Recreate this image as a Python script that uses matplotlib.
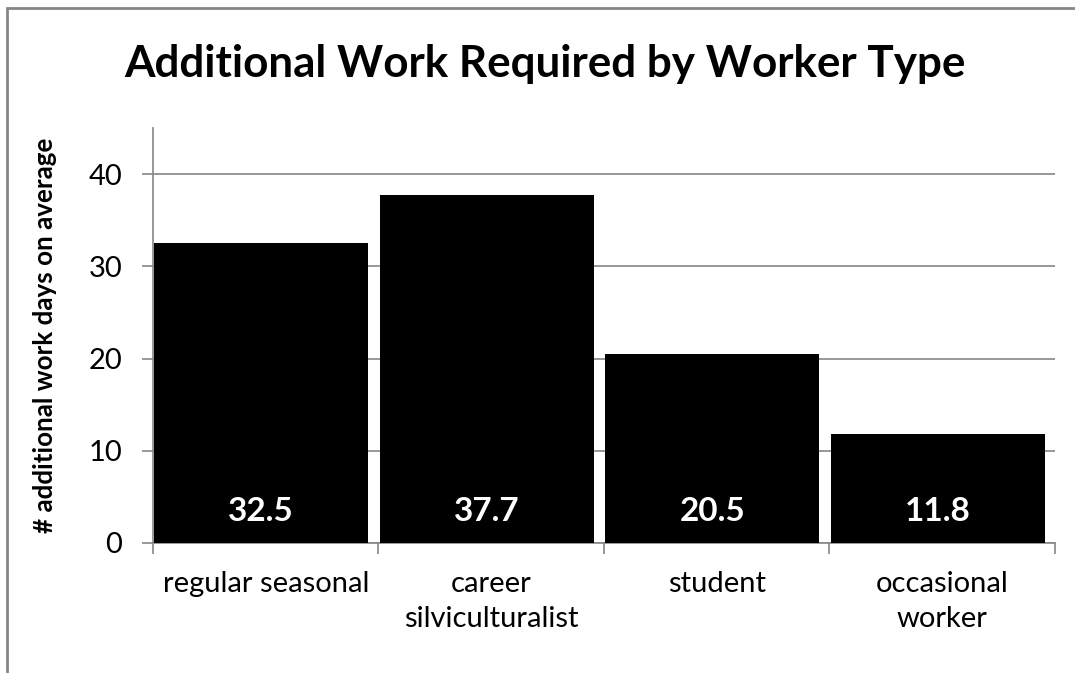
import matplotlib.pyplot as plt
from matplotlib.patches import Rectangle

categories = ["regular seasonal", "career\nsilviculturalist", "student", "occasional\nworker"]
values = [32.5, 37.7, 20.5, 11.8]
yticks = [0, 10, 20, 30, 40]

plt.rcParams['font.family'] = ['Lato', 'DejaVu Sans']
grey = "#868686"

fig = plt.figure(figsize=(10.75, 6.73), dpi=100)
ax = fig.add_axes([0.1423, 0.1932, 0.8391, 0.6166])

# outer chart frame (only top and left edges fall inside the image)
fig.patches.append(Rectangle((7 / 1075, -0.1), 1.2, 1 - 8 / 673 + 0.1,
                             transform=fig.transFigure, fill=False,
                             edgecolor=grey, linewidth=2))

xs = range(len(values))
ax.bar([x - 0.02 for x in xs], values, width=0.95, color="black", zorder=3)
for x, v in zip(xs, values):
    ax.annotate(f"{v:.1f}", (x - 0.02, 0), xytext=(0, 23), textcoords="offset points",
                ha="center", va="center", color="white", fontsize=24,
                fontweight="bold", zorder=4)

ax.set_xlim(-0.5, len(values) - 0.5)
ax.set_ylim(0, 45)
ax.set_yticks(yticks)
ax.yaxis.grid(True, color=grey, linewidth=1.2, zorder=0)
ax.set_xticks(list(xs))
ax.set_xticklabels(categories, fontsize=21, linespacing=1.45)
ax.set_xticks([i - 0.5 for i in range(len(values) + 1)], minor=True)
ax.tick_params(axis="x", which="major", length=0, pad=20)
ax.tick_params(axis="x", which="minor", length=8, color=grey, width=1.2)
ax.tick_params(axis="y", length=8, color=grey, width=1.2, labelsize=21, pad=14)

for side in ("top", "right"):
    ax.spines[side].set_visible(False)
for side in ("left", "bottom"):
    ax.spines[side].set_color(grey)
    ax.spines[side].set_linewidth(1.2)

ax.set_ylabel("# additional work days on average", fontsize=18.7,
              fontweight="bold", labelpad=23)
fig.text(0.507, 0.905, "Additional Work Required by Worker Type",
         ha="center", va="center", fontsize=31.7, fontweight="bold")

fig.savefig("out.png", dpi=100)
